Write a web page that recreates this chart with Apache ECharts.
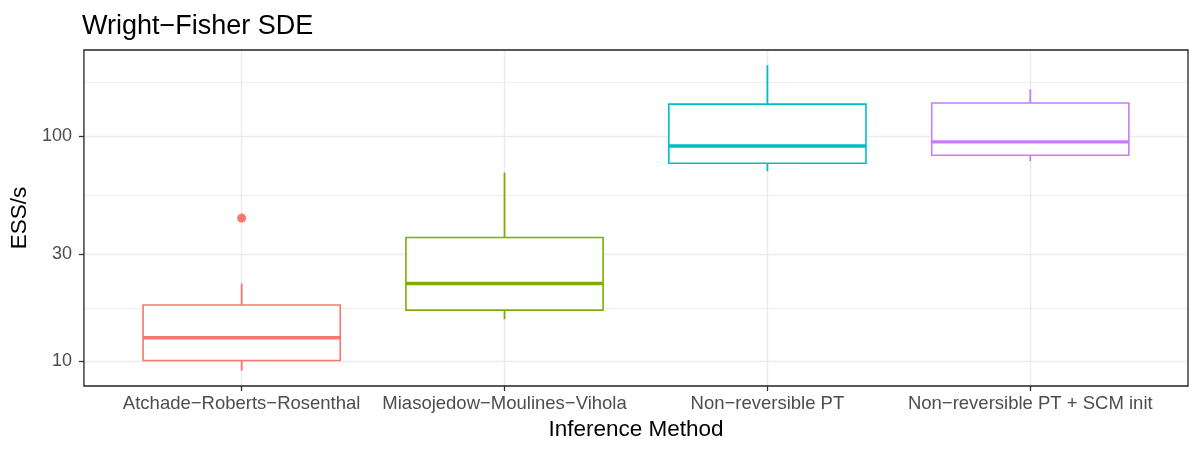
<!DOCTYPE html>
<html>
<head>
<meta charset="utf-8">
<script src="https://cdn.jsdelivr.net/npm/echarts@6/dist/echarts.min.js"></script>
<style>
  html, body { margin: 0; padding: 0; background: #fff; }
  #main { width: 1200px; height: 450px; }
</style>
</head>
<body>
<div id="main"></div>
<script>
// methods on the x axis
const methods = [
    'Atchade\u2212Roberts\u2212Rosenthal',
    'Miasojedow\u2212Moulines\u2212Vihola',
    'Non\u2212reversible PT',
    'Non\u2212reversible PT + SCM init'
];
// box statistics, ESS/s
const lowWhisker  = [9.1, 15.4, 69.9, 77.4];
const lowerQuart  = [10.1, 16.9, 75.8, 82.3];
const medians     = [12.75, 22.2, 90.5, 94.3];
const upperQuart  = [17.8, 35.5, 138.8, 140.3];
const highWhisker = [22.2, 68.9, 206.4, 161.4];
// outliers: [method index, value]
const outliers = [[1, 43.3]];
// y axis breaks
const majorBreaks = [10, 30, 100];
const minorBreaks = [17.3, 54.8, 173];

const colors = ['#F8766D', '#7CAE00', '#00BFC4', '#C77CFF'];
const font = 'Liberation Sans, Arial, sans-serif';

const lg = Math.log10;

let boxData = methods.map((m, i) => [
    i + 1, lg(lowWhisker[i]), lg(lowerQuart[i]), lg(medians[i]), lg(upperQuart[i]), lg(highWhisker[i])
]);
let outlierData = outliers.map((o) => [o[0], lg(o[1])]);

// ggplot-like 5% expansion of the data range
let allVals = lowWhisker.concat(highWhisker, outliers.map((o) => o[1])).map(lg);
let dMin = Math.min.apply(null, allVals);
let dMax = Math.max.apply(null, allVals);
let pad = (dMax - dMin) * 0.05;
let yMin = dMin - pad;
let yMax = dMax + pad;

let chart = echarts.init(document.getElementById('main'));

let renderBox = function(params, api) {
    let x = api.value(0);
    let half = api.size([0.75, 0])[0] / 2;
    let c = colors[params.dataIndex];
    let lo = api.coord([x, api.value(1)]);
    let q1 = api.coord([x, api.value(2)]);
    let md = api.coord([x, api.value(3)]);
    let q3 = api.coord([x, api.value(4)]);
    let hi = api.coord([x, api.value(5)]);
    let thin = { stroke: c, lineWidth: 1.8, fill: null };
    return {
        type: 'group',
        children: [
            { type: 'line', shape: { x1: hi[0], y1: hi[1], x2: q3[0], y2: q3[1] }, style: thin },
            { type: 'line', shape: { x1: q1[0], y1: q1[1], x2: lo[0], y2: lo[1] }, style: thin },
            { type: 'rect', shape: { x: q3[0] - half, y: q3[1], width: half * 2, height: q1[1] - q3[1] },
              style: { stroke: c, lineWidth: 1.6, fill: '#fff' } },
            { type: 'line', shape: { x1: md[0] - half, y1: md[1], x2: md[0] + half, y2: md[1] },
              style: { stroke: c, lineWidth: 3.4 } }
        ]
    };
};

chart.setOption({
    animation: false,
    backgroundColor: '#fff',
    title: {
        text: 'Wright\u2212Fisher SDE',
        left: 77,
        top: 8,
        textStyle: { fontFamily: font, fontSize: 27, fontWeight: 'normal', color: '#000' }
    },
    grid: {
        left: 81, right: 12, top: 50, bottom: 64,
        show: true, borderColor: '#222', borderWidth: 1.3, backgroundColor: 'transparent', z: 10
    },
    xAxis: {
        type: 'value',
        min: 0.4,
        max: 4.6,
        name: 'Inference Method',
        nameLocation: 'middle',
        nameGap: 32,
        nameTextStyle: { fontFamily: font, fontSize: 22.5, color: '#000' },
        axisLine: { show: false },
        axisTick: { show: true, length: 5, customValues: [1, 2, 3, 4], lineStyle: { color: '#333', width: 1.3 } },
        axisLabel: {
            customValues: [1, 2, 3, 4],
            margin: 8,
            fontFamily: font, fontSize: 18.5, color: '#4D4D4D',
            formatter: (v) => methods[Math.round(v) - 1] || ''
        },
        splitLine: { show: true, lineStyle: { color: '#EBEBEB', width: 1.4 } }
    },
    yAxis: [{
        type: 'value',
        position: 'left',
        min: yMin,
        max: yMax,
        name: 'ESS/s',
        nameLocation: 'middle',
        nameGap: 52,
        nameTextStyle: { fontFamily: font, fontSize: 22.5, color: '#000' },
        axisLine: { show: false },
        axisTick: { show: true, length: 5, customValues: majorBreaks.map(lg), lineStyle: { color: '#333', width: 1.3 } },
        axisLabel: {
            customValues: majorBreaks.map(lg),
            margin: 12,
            fontFamily: font, fontSize: 18, color: '#4D4D4D',
            formatter: (v) => String(Math.round(Math.pow(10, v)))
        },
        splitLine: { show: true, lineStyle: { color: '#EBEBEB', width: 1.4 } }
    }, {
        type: 'value',
        position: 'left',
        min: yMin,
        max: yMax,
        axisLine: { show: false },
        axisTick: { show: false, customValues: minorBreaks.map(lg) },
        axisLabel: { show: false, customValues: minorBreaks.map(lg) },
        splitLine: { show: true, lineStyle: { color: '#EBEBEB', width: 0.8 } }
    }],
    series: [{
        type: 'custom',
        renderItem: renderBox,
        data: boxData,
        encode: { x: 0, y: [1, 2, 3, 4, 5] },
        z: 3
    }, {
        type: 'scatter',
        data: outlierData,
        symbolSize: 9,
        itemStyle: { color: colors[0], opacity: 1 },
        z: 4
    }]
});
</script>
</body>
</html>
